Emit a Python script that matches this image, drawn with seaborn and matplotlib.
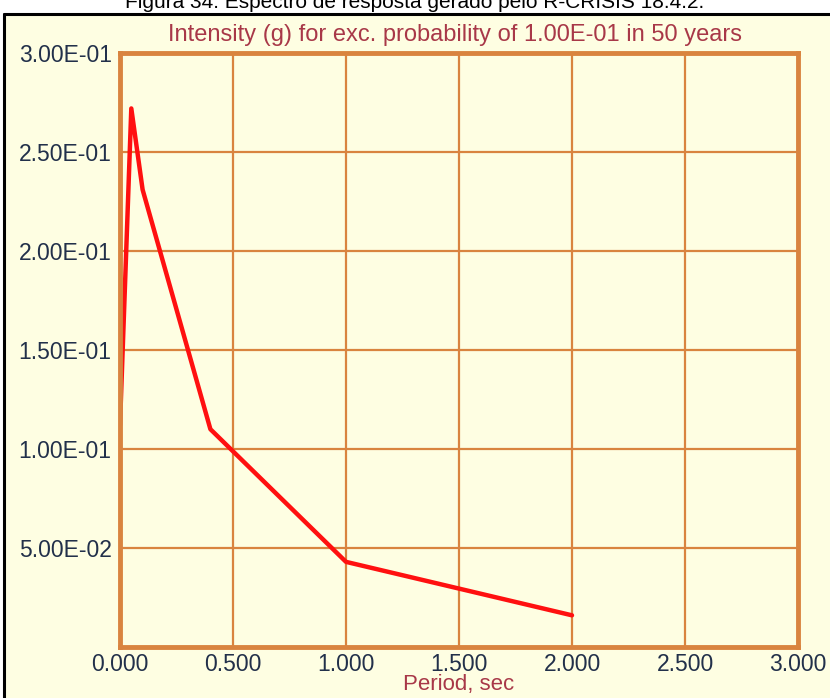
import matplotlib
matplotlib.use("Agg")
import matplotlib.pyplot as plt
import matplotlib.patches as mpatches
import matplotlib.lines as mlines
import seaborn as sns
import pandas as pd

periods = [0.0, 0.05, 0.1, 0.4, 1.0, 2.0]
intensity = [0.112, 0.272, 0.231, 0.110, 0.043, 0.016]
x_ticks = [0.0, 0.5, 1.0, 1.5, 2.0, 2.5, 3.0]
y_ticks = [0.05, 0.10, 0.15, 0.20, 0.25, 0.30]
y_tick_labels = ["5.00E-02", "1.00E-01", "1.50E-01", "2.00E-01", "2.50E-01", "3.00E-01"]
x_tick_labels = ["0.000", "0.500", "1.000", "1.500", "2.000", "2.500", "3.000"]
chart_title = "Intensity (g) for exc. probability of 1.00E-01 in 50 years"
x_label = "Period, sec"
caption = "Figura 34: Espectro de resposta gerado pelo R-CRISIS 18.4.2."

sns.set_theme(style="white")
plt.rcParams["font.family"] = ["Liberation Sans", "DejaVu Sans"]

df = pd.DataFrame({"period": periods, "intensity": intensity})

W, H = 830, 698
fig = plt.figure(figsize=(W / 100, H / 100), dpi=100)
fig.patch.set_facecolor("white")

bg = "#FEFEE2"
orange = "#D9843F"
maroon = "#A83848"
navy = "#22304A"

# yellow panel with black frame
fig.add_artist(mpatches.Rectangle((4 / W, 0), 1 - 4 / W, 1 - 14 / H, transform=fig.transFigure,
                                  facecolor=bg, edgecolor="none", zorder=0))
fig.add_artist(mlines.Line2D([4 / W, 1], [1 - 14 / H, 1 - 14 / H], transform=fig.transFigure,
                             color="black", lw=2.2, zorder=1))
fig.add_artist(mlines.Line2D([4 / W, 4 / W], [0, 1 - 14 / H], transform=fig.transFigure,
                             color="black", lw=2.2, zorder=1))

# caption, clipped at top as in the reference
fig.text(0.5, 1 - 2 / H, caption, ha="center", va="center", fontsize=15, color="black")

ax = fig.add_axes([120 / W, 1 - 647 / H, (798 - 120) / W, (647 - 53) / H])
ax.set_facecolor(bg)
sns.lineplot(data=df, x="period", y="intensity", ax=ax, color="#FF1010", lw=3.2)

ax.set_xlim(0, 3)
ax.set_ylim(0, 0.3)
ax.set_xticks(x_ticks)
ax.set_xticklabels(x_tick_labels)
ax.set_yticks(y_ticks)
ax.set_yticklabels(y_tick_labels)
ax.grid(True, color=orange, lw=1.6)
ax.set_axisbelow(True)
for s in ax.spines.values():
    s.set_color(orange)
    s.set_linewidth(3.5)
    s.set_visible(True)
ax.tick_params(axis="both", length=0, labelsize=16.5, colors=navy)
ax.tick_params(axis="y", pad=6)
ax.tick_params(axis="x", pad=4)
ax.set_xlabel(x_label, color=maroon, fontsize=16)
ax.xaxis.set_label_coords(0.5, -0.046)
ax.set_ylabel("")
ax.set_title(chart_title, color=maroon, fontsize=17, pad=9, x=0.494)

fig.savefig("out.png", dpi=100, facecolor=fig.get_facecolor())
